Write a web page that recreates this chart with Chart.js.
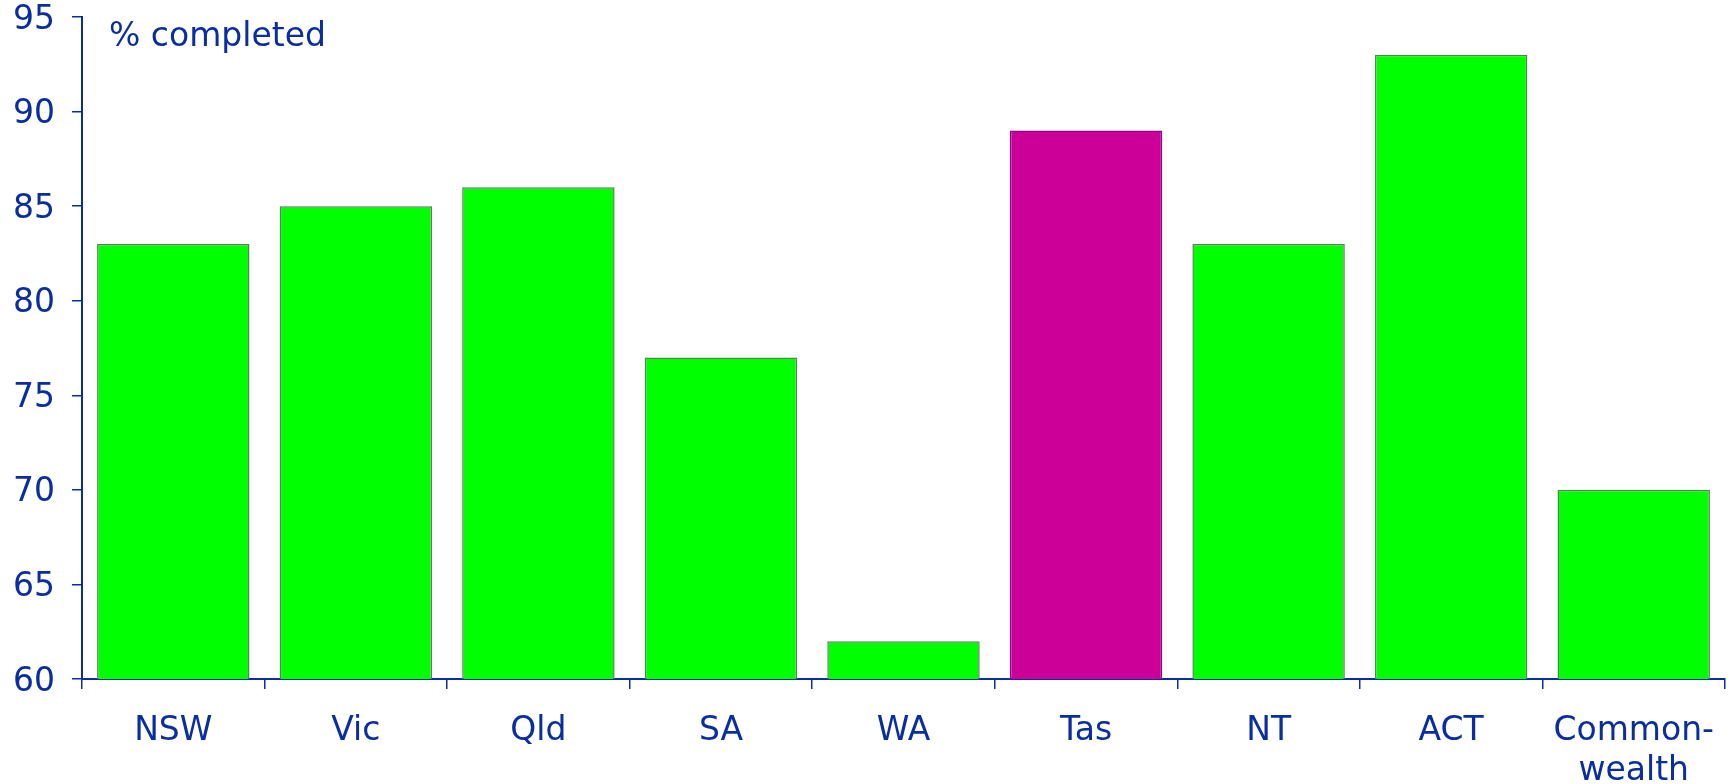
<!DOCTYPE html>
<html>
<head>
<meta charset="utf-8">
<script src="https://cdn.jsdelivr.net/npm/chart.js@4/dist/chart.umd.min.js"></script>
<style>
  html, body { margin: 0; padding: 0; background: #ffffff; }
  #wrap { width: 1734px; height: 784px; position: relative; }
</style>
</head>
<body>
<div id="wrap"><canvas id="c" width="1734" height="784"></canvas></div>
<script>
// Share of cases completed by jurisdiction
const categories = ["NSW", "Vic", "Qld", "SA", "WA", "Tas", "NT", "ACT", ["Common-", "wealth"]];
const completed = [83, 85, 86, 77, 62, 89, 83, 93, 70];
const highlighted = "Tas";
const yTicks = [60, 65, 70, 75, 80, 85, 90, 95];
const unitLabel = "% completed";

const BLUE = "#0a2ea0";
const FONT = "'DejaVu Sans', Verdana, sans-serif";

const fills = categories.map(c => c === highlighted ? "#cc0099" : "#00ff00");
const edges = categories.map(c => c === highlighted ? "#99008a" : "#5a805a");

const unitText = {
  id: "unitText",
  afterDraw(chart) {
    const ctx = chart.ctx;
    ctx.save();
    ctx.fillStyle = BLUE;
    ctx.font = "33px " + FONT;
    ctx.textBaseline = "alphabetic";
    ctx.textAlign = "left";
    ctx.fillText(unitLabel, chart.chartArea.left + 27, 46);
    ctx.restore();
  }
};

new Chart(document.getElementById("c"), {
  type: "bar",
  data: {
    labels: categories,
    datasets: [{
      data: completed,
      backgroundColor: fills,
      borderColor: edges,
      borderWidth: 1.5,
      borderSkipped: "bottom",
      categoryPercentage: 1.0,
      barPercentage: 0.835
    }]
  },
  options: {
    responsive: false,
    animation: false,
    layout: { padding: { top: 17, right: 9, left: 0, bottom: 0 } },
    plugins: { legend: { display: false }, tooltip: { enabled: false } },
    scales: {
      x: {
        offset: true,
        grid: {
          offset: true,
          drawOnChartArea: false,
          drawTicks: true,
          tickLength: 10,
          color: BLUE,
          lineWidth: 1.5
        },
        border: { display: true, color: BLUE, width: 2 },
        ticks: {
          color: BLUE,
          font: { family: FONT, size: 33, lineHeight: 1.2 },
          padding: 23,
          maxRotation: 0,
          autoSkip: false
        },
        afterFit(scale) {
          scale.height = 105;
          scale.paddingLeft = 0;
          scale.paddingRight = 0;
        }
      },
      y: {
        min: 60,
        max: 95,
        afterBuildTicks(scale) { scale.ticks = yTicks.map(v => ({ value: v })); },
        grid: {
          drawOnChartArea: false,
          drawTicks: true,
          tickLength: 10,
          color: BLUE,
          lineWidth: 1.5
        },
        border: { display: true, color: BLUE, width: 2 },
        ticks: {
          color: BLUE,
          font: { family: FONT, size: 33 },
          padding: 17,
          labelOffset: 3
        },
        afterFit(scale) {
          scale.width = 82;
          scale.paddingTop = 0;
          scale.paddingBottom = 0;
        }
      }
    }
  },
  plugins: [unitText]
});
</script>
</body>
</html>
